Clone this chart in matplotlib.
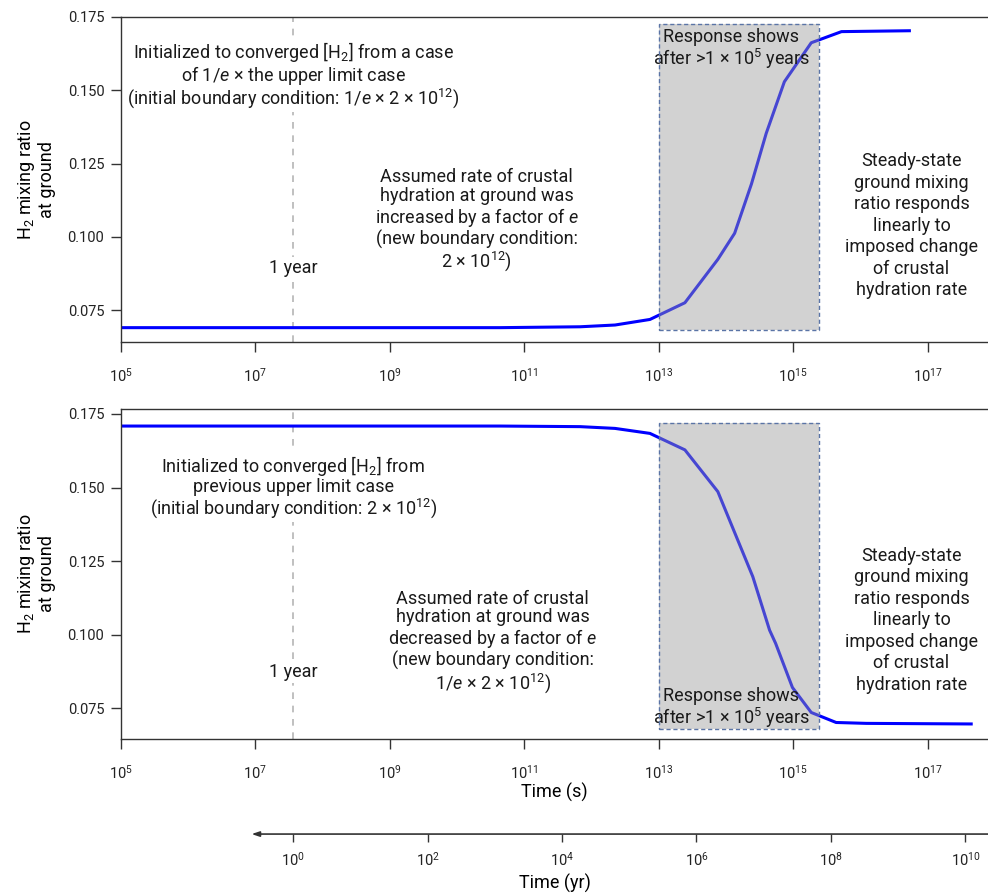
import numpy as np
import matplotlib
matplotlib.use("Agg")
import matplotlib.pyplot as plt
from matplotlib.patches import Rectangle

# =============================================================================
# * Data
# =============================================================================

SEC_PER_YR = 3.65e7  # where the figure puts "1 year" / 10^0 yr on the s axis

# upper panel: boundary condition increased by a factor of e
t_up = [1e5, 1e7, 1e9, 10**10.64, 10**11.83, 10**12.35, 10**12.87, 10**13.39,
        10**13.88, 10**14.13, 10**14.38, 10**14.60, 10**14.87, 10**15.27,
        10**15.72, 10**16.73]
h2_up = [0.0690, 0.0690, 0.0690, 0.0690, 0.0693, 0.0699, 0.0718, 0.0775,
         0.0923, 0.1012, 0.1180, 0.1353, 0.1529, 0.1662, 0.1700, 0.1703]

# lower panel: boundary condition decreased by a factor of e
t_down = [1e5, 1e7, 1e9, 10**10.64, 10**11.83, 10**12.35, 10**12.87, 10**13.39,
          10**13.88, 10**14.40, 10**14.65, 10**14.74, 10**14.99, 10**15.27,
          10**15.64, 10**16.09, 10**17.65]
h2_down = [0.1709, 0.1709, 0.1709, 0.1709, 0.1707, 0.1701, 0.1684, 0.1628,
           0.1486, 0.1197, 0.1015, 0.0970, 0.0820, 0.0735, 0.0701, 0.0698,
           0.0696]

# shaded "response" window (s) and its vertical extent per panel
resp_t = [1e13, 10**15.38]
resp_y_up = [0.0682, 0.1725]
resp_y_down = [0.0679, 0.1718]

x_ticks = [1e5, 1e7, 1e9, 1e11, 1e13, 1e15, 1e17]
y_ticks = [0.075, 0.100, 0.125, 0.150, 0.175]
yr_ticks = [1e0, 1e2, 1e4, 1e6, 1e8, 1e10]

XLIM = (1e5, 10**17.9)
YLIM_UP = (0.0641, 0.175)
YLIM_DOWN = (0.0645, 0.1767)

# =============================================================================
# * Style
# =============================================================================

plt.rcParams['font.family'] = ['Roboto', 'DejaVu Sans']
plt.rcParams['mathtext.fontset'] = 'custom'
plt.rcParams['mathtext.rm'] = 'Roboto'
plt.rcParams['mathtext.it'] = 'Roboto:italic'
plt.rcParams['axes.edgecolor'] = '#333333'
plt.rcParams['axes.linewidth'] = 1.0
plt.rcParams['text.color'] = '#1a1a1a'
plt.rcParams['xtick.color'] = '#333333'
plt.rcParams['ytick.color'] = '#333333'
plt.rcParams['xtick.labelcolor'] = '#222222'
plt.rcParams['ytick.labelcolor'] = '#222222'

FS = 13.0
LS = 1.25
TICK_FS = 10.5
LINE_BLUE = '#0000ff'
BOX_EDGE = '#5a74a6'
WHITE_BOX = dict(facecolor='white', edgecolor='none', pad=1.5)

fig = plt.figure(figsize=(9.88, 8.93), dpi=100)
ax_up = fig.add_axes([0.1225, 0.617, 0.8775, 0.364])
ax_dn = fig.add_axes([0.1225, 0.1725, 0.8775, 0.3695])


def style_panel(ax, ylim):
    ax.set_xscale('log')
    ax.set_xlim(*XLIM)
    ax.set_ylim(*ylim)
    ax.set_xticks(x_ticks)
    ax.xaxis.set_minor_locator(matplotlib.ticker.NullLocator())
    ax.set_yticks(y_ticks)
    ax.yaxis.set_major_formatter(matplotlib.ticker.FormatStrFormatter('%.3f'))
    ax.spines['right'].set_visible(False)
    ax.tick_params(axis='both', direction='out', length=7, width=1.0,
                   labelsize=TICK_FS)
    ax.tick_params(axis='x', pad=11)
    ax.tick_params(axis='y', pad=5)
    ax.set_ylabel('H$_2$ mixing ratio\nat ground', fontsize=FS, linespacing=1.05)
    ax.yaxis.set_label_coords(-0.075, 0.5)
    ax.axvline(SEC_PER_YR, color='#b5b5b5', lw=1.2, ls=(0, (4, 4)), zorder=1)


def response_box(ax, yr):
    w = resp_t[1] - resp_t[0]
    h = yr[1] - yr[0]
    ax.add_patch(Rectangle((resp_t[0], yr[0]), w, h, facecolor='#9c9c9c',
                           edgecolor='none', alpha=0.45, zorder=3))
    ax.add_patch(Rectangle((resp_t[0], yr[0]), w, h, fill=False,
                           edgecolor=BOX_EDGE, lw=1.0, ls=(0, (3, 2)), zorder=4))


def note(ax, x, y, s, boxed=False, z=5, ls=LS):
    ax.text(x, y, s, ha='center', va='center', fontsize=FS, linespacing=ls,
            bbox=WHITE_BOX if boxed else None, zorder=z)


steady_txt = ('Steady-state\nground mixing\nratio responds\nlinearly to\n'
              'imposed change\nof crustal\nhydration rate')
resp_txt = 'Response shows\nafter >1 × 10$^5$ years'

# --- upper panel
style_panel(ax_up, YLIM_UP)
ax_up.plot(t_up, h2_up, color=LINE_BLUE, lw=2.2, zorder=2)
response_box(ax_up, resp_y_up)
note(ax_up, SEC_PER_YR, 0.1552,
     'Initialized to converged [H$_2$] from a case\n'
     'of 1/$e$ × the upper limit case\n'
     '(initial boundary condition: 1/$e$ × 2 × 10$^{12}$)', boxed=True, ls=1.0)
note(ax_up, SEC_PER_YR, 0.0893, '1 year', boxed=True)
note(ax_up, 10**10.29, 0.1054,
     'Assumed rate of crustal\nhydration at ground was\n'
     'increased by a factor of $e$\n(new boundary condition:\n'
     '2 × 10$^{12}$)', ls=1.05)
note(ax_up, 10**14.08, 0.1640, resp_txt, z=3.5, ls=1.05)
note(ax_up, 10**16.76, 0.1037, steady_txt)

# --- lower panel
style_panel(ax_dn, YLIM_DOWN)
ax_dn.plot(t_down, h2_down, color=LINE_BLUE, lw=2.2, zorder=2)
response_box(ax_dn, resp_y_down)
note(ax_dn, SEC_PER_YR, 0.1502,
     'Initialized to converged [H$_2$] from\n'
     'previous upper limit case\n'
     '(initial boundary condition: 2 × 10$^{12}$)', boxed=True, ls=1.0)
note(ax_dn, SEC_PER_YR, 0.0873, '1 year', boxed=True)
note(ax_dn, 10**10.53, 0.0974,
     'Assumed rate of crustal\nhydration at ground was\n'
     'decreased by a factor of $e$\n(new boundary condition:\n'
     '1/$e$ × 2 × 10$^{12}$)', ls=1.05)
note(ax_dn, 10**14.08, 0.0750, resp_txt, z=3.5, ls=1.05)
note(ax_dn, 10**16.76, 0.1048, steady_txt)
ax_dn.set_xlabel('Time (s)', fontsize=FS, labelpad=1)

# --- separate time axis in years
ax_yr = fig.add_axes([0.1225, 0.066, 0.8775, 0.0001])
ax_yr.set_xscale('log')
ax_yr.set_xlim(XLIM[0] / SEC_PER_YR, XLIM[1] / SEC_PER_YR)
ax_yr.set_yticks([])
for side in ['top', 'right', 'left', 'bottom']:
    ax_yr.spines[side].set_visible(False)
ax_yr.patch.set_visible(False)
ax_yr.set_xticks(yr_ticks)
ax_yr.xaxis.set_minor_locator(matplotlib.ticker.NullLocator())
ax_yr.tick_params(axis='x', direction='out', length=6, width=1.0,
                  labelsize=TICK_FS, pad=6)
ax_yr.annotate('', xy=(10**-0.62, 0), xytext=(XLIM[1] / SEC_PER_YR, 0),
               xycoords=('data', 'axes fraction'),
               textcoords=('data', 'axes fraction'),
               arrowprops=dict(arrowstyle='-|>,head_width=0.15,head_length=0.45',
                               color='#333333', lw=1.2, shrinkA=0, shrinkB=0))
ax_yr.set_xlabel('Time (yr)', fontsize=FS, labelpad=4)

fig.savefig('out.png', dpi=100)
